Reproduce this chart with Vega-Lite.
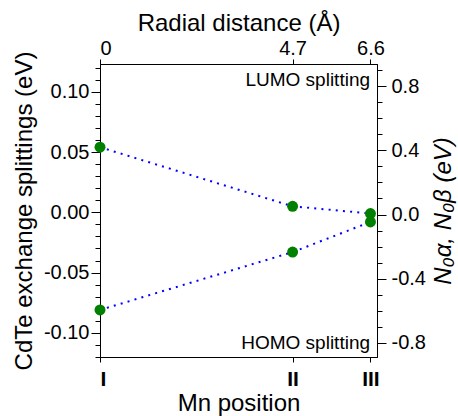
{
  "$schema": "https://vega.github.io/schema/vega-lite/v6.json",
  "width": 277,
  "height": 293,
  "autosize": "none",
  "padding": {"left": 100, "top": 64, "right": 81, "bottom": 59},
  "background": "white",
  "config": {
    "view": {"stroke": "black", "strokeWidth": 1},
    "font": "Liberation Sans",
    "axis": {
      "grid": false,
      "labelFont": "Liberation Sans",
      "labelFontSize": 20,
      "labelColor": "black",
      "titleFont": "Liberation Sans",
      "titleFontSize": 24,
      "titleFontWeight": "normal",
      "titleColor": "black",
      "tickColor": "black",
      "domainColor": "black",
      "tickWidth": 1,
      "domainWidth": 1
    }
  },
  "datasets": {
    "pts": [
      {"r": 0, "v": 0.054, "s": "LUMO"},
      {"r": 4.7, "v": 0.005, "s": "LUMO"},
      {"r": 6.6, "v": -0.001, "s": "LUMO"},
      {"r": 0, "v": -0.081, "s": "HOMO"},
      {"r": 4.7, "v": -0.033, "s": "HOMO"},
      {"r": 6.6, "v": -0.008, "s": "HOMO"}
    ],
    "notes": [
      {"r": 6.59, "v": 0.11, "label": "LUMO splitting"},
      {"r": 6.59, "v": -0.108, "label": "HOMO splitting"}
    ]
  },
  "layer": [
    {
      "data": {"name": "pts"},
      "mark": {"type": "line", "color": "#0000ff", "strokeWidth": 2, "strokeDash": [2, 5.2], "strokeCap": "butt"},
      "encoding": {
        "x": {"field": "r", "type": "quantitative", "scale": {"domain": [0, 6.76], "nice": false, "zero": false},
          "axis": {"orient": "bottom", "values": [0, 4.7, 6.6], "labelExpr": "datum.value == 0 ? 'I' : (datum.value == 4.7 ? 'II' : 'III')", "labelFontWeight": "bold", "labelFontSize": 21, "tickSize": 5, "labelPadding": 6, "title": "Mn position", "titlePadding": 2}},
        "y": {"field": "v", "type": "quantitative", "scale": {"domain": [-0.12, 0.123], "nice": false, "zero": false},
          "axis": {"orient": "left", "values": [-0.1, -0.05, 0, 0.05, 0.1], "labelExpr": "replace(format(datum.value, '.2f'), '−', '-')", "tickSize": 9, "labelPadding": 2, "title": "CdTe exchange splittings (eV)", "titlePadding": 7}},
        "detail": {"field": "s"}
      }
    },
    {
      "data": {"name": "pts"},
      "mark": {"type": "point", "filled": true, "color": "#008000", "opacity": 1, "size": 120},
      "encoding": {
        "x": {"field": "r", "type": "quantitative", "scale": {"domain": [0, 6.76], "nice": false, "zero": false}, "axis": null},
        "y": {"field": "v", "type": "quantitative", "scale": {"domain": [-0.12, 0.123], "nice": false, "zero": false}, "axis": null}
      }
    },
    {
      "data": {"name": "notes"},
      "mark": {"type": "text", "align": "right", "baseline": "middle", "fontSize": 19, "color": "black", "font": "Liberation Sans"},
      "encoding": {
        "x": {"field": "r", "type": "quantitative", "scale": {"domain": [0, 6.76], "nice": false, "zero": false}, "axis": null},
        "y": {"field": "v", "type": "quantitative", "scale": {"domain": [-0.12, 0.123], "nice": false, "zero": false}, "axis": null},
        "text": {"field": "label"}
      }
    },
    {
      "data": {"name": "pts"},
      "mark": {"type": "point", "opacity": 0},
      "encoding": {
        "x": {"field": "r", "type": "quantitative", "scale": {"domain": [0, 6.76], "nice": false, "zero": false},
          "axis": {"orient": "top", "values": [0, 4.7, 6.6], "labelExpr": "datum.value == 0 ? '0' : format(datum.value, '.1f')", "tickSize": 5, "labelPadding": 1, "title": "Radial distance (Å)", "titlePadding": 3}},
        "y": {"field": "v", "type": "quantitative", "scale": {"domain": [-0.89, 0.94], "nice": false, "zero": false},
          "axis": {"orient": "right", "values": [-0.8, -0.4, 0, 0.4, 0.8], "labelExpr": "replace(format(datum.value, '.1f'), '−', '-')", "tickSize": 9, "labelPadding": 5, "title": "N₀α, N₀β (eV)", "titleAngle": 270, "titleBaseline": "top", "titlePadding": 6, "titleFontStyle": "italic"}}
      }
    },
    {
      "data": {"name": "pts"},
      "mark": {"type": "point", "opacity": 0},
      "encoding": {
        "x": {"field": "r", "type": "quantitative", "scale": {"domain": [0, 6.76], "nice": false, "zero": false}, "axis": null},
        "y": {"field": "v", "type": "quantitative", "scale": {"domain": [-0.12, 0.123], "nice": false, "zero": false},
          "axis": {"orient": "left", "values": [-0.12, -0.11, -0.09, -0.08, -0.07, -0.06, -0.04, -0.03, -0.02, -0.01, 0.01, 0.02, 0.03, 0.04, 0.06, 0.07, 0.08, 0.09, 0.11, 0.12], "labels": false, "domain": false, "tickSize": 5, "title": null}}
      }
    },
    {
      "data": {"name": "pts"},
      "mark": {"type": "point", "opacity": 0},
      "encoding": {
        "x": {"field": "r", "type": "quantitative", "scale": {"domain": [0, 6.76], "nice": false, "zero": false}, "axis": null},
        "y": {"field": "v", "type": "quantitative", "scale": {"domain": [-0.89, 0.94], "nice": false, "zero": false},
          "axis": {"orient": "right", "values": [-0.7, -0.6, -0.5, -0.3, -0.2, -0.1, 0.1, 0.2, 0.3, 0.5, 0.6, 0.7, 0.9], "labels": false, "domain": false, "tickSize": 5, "title": null}}
      }
    }
  ],
  "resolve": {
    "scale": {"x": "independent", "y": "independent"},
    "axis": {"x": "independent", "y": "independent"}
  }
}
